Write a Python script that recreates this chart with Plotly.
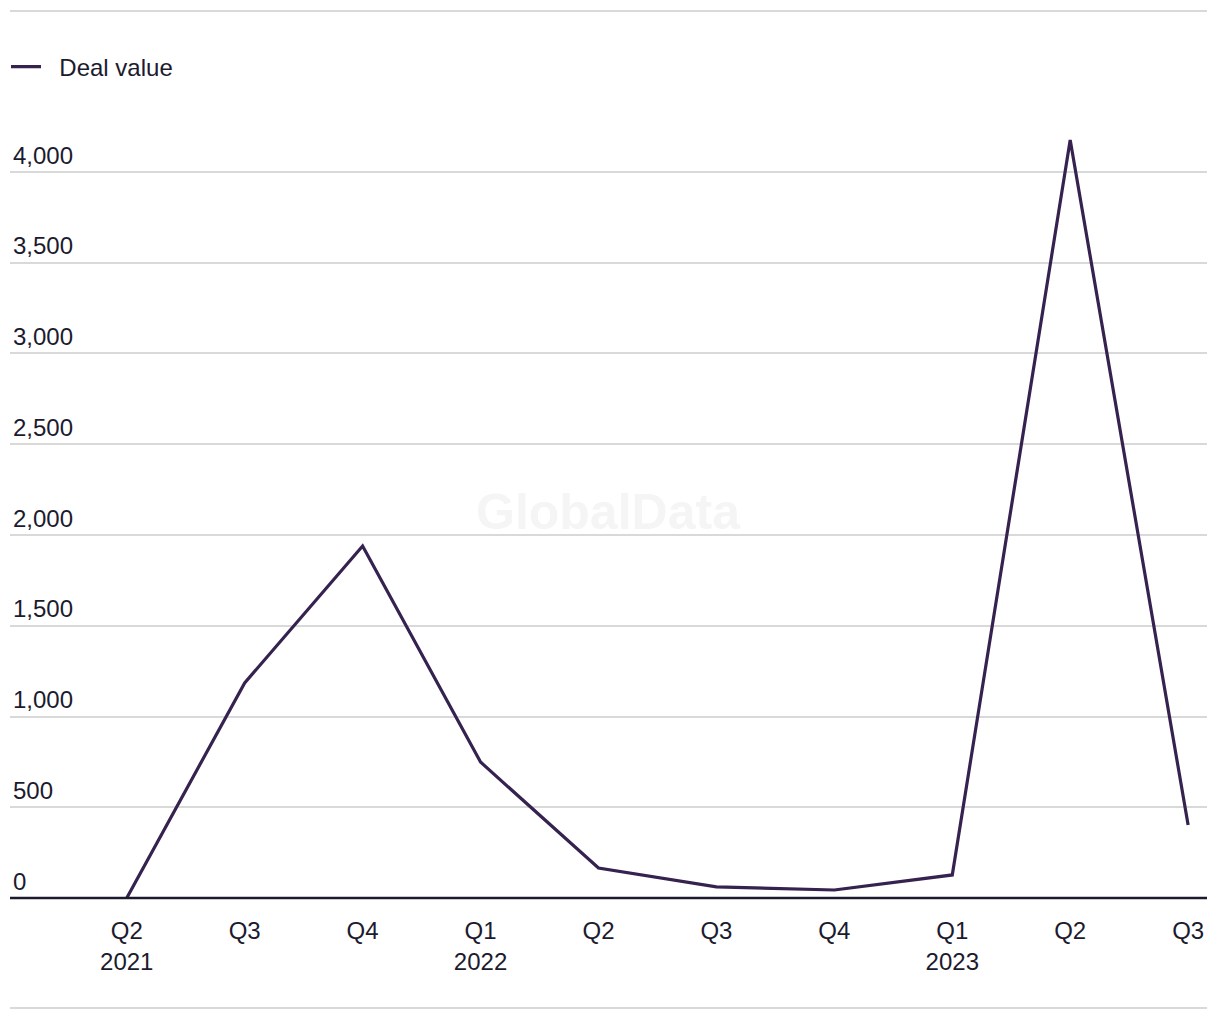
import plotly.graph_objects as go

quarters = ["Q2<br>2021", "Q3", "Q4", "Q1<br>2022", "Q2", "Q3", "Q4", "Q1<br>2023", "Q2", "Q3"]
deal_value = [0, 1185, 1939, 749, 165, 61, 44, 127, 4176, 402]
y_ticks = [0, 500, 1000, 1500, 2000, 2500, 3000, 3500, 4000]
y_tick_text = ["0", "500", "1,000", "1,500", "2,000", "2,500", "3,000", "3,500", "4,000"]

x_idx = list(range(len(quarters)))
FONT = "Liberation Sans"
TXT = "#1c1a2e"
PLOT_H = 887.0
PLOT_W = 1197.0

fig = go.Figure()
fig.add_trace(go.Scatter(
    x=x_idx, y=deal_value, mode="lines", name="\u00a0\u00a0Deal value",
    line=dict(color="#35224f", width=3.2),
))

fig.update_layout(
    width=1220, height=1020,
    margin=dict(l=10, r=13, t=11, b=122, autoexpand=False),
    paper_bgcolor="white", plot_bgcolor="white",
    font=dict(family=FONT, size=24, color=TXT),
    showlegend=True,
    legend=dict(x=-4 / PLOT_W, y=(898 - 67) / PLOT_H, xanchor="left", yanchor="middle",
                font=dict(size=24, color=TXT), bgcolor="rgba(0,0,0,0)", itemwidth=30),
    xaxis=dict(
        range=[-0.99, 9.16], tickmode="array", tickvals=x_idx, ticktext=quarters,
        showgrid=False, zeroline=False, showline=False, ticks="",
        ticklabelstandoff=16,
        tickfont=dict(size=24, color=TXT), fixedrange=True,
    ),
    yaxis=dict(
        range=[0, 4887], tickmode="array", tickvals=y_ticks, ticktext=y_tick_text,
        ticklabelposition="inside top", showgrid=True, gridcolor="#d9d9d9", gridwidth=1.5,
        zeroline=False, showline=False, ticks="",
        tickfont=dict(size=24, color=TXT), fixedrange=True,
    ),
    annotations=[dict(
        text="<b>GlobalData</b>", x=0.5, y=(898 - 512) / PLOT_H, xref="paper", yref="paper",
        showarrow=False, font=dict(size=50, color="#f5f5f5", family="Liberation Sans"),
    )],
    shapes=[
        dict(type="line", xref="paper", yref="paper", x0=0, x1=1, y0=0, y1=0,
             line=dict(color="#1c1a2e", width=2.5), layer="above"),
        dict(type="line", xref="paper", yref="paper", x0=0, x1=1, y0=1, y1=1,
             line=dict(color="#d9d9d9", width=2)),
        dict(type="line", xref="paper", yref="paper", x0=0, x1=1,
             y0=(898 - 1008) / PLOT_H, y1=(898 - 1008) / PLOT_H,
             line=dict(color="#d9d9d9", width=2)),
    ],
)

fig.write_html("out.html")
